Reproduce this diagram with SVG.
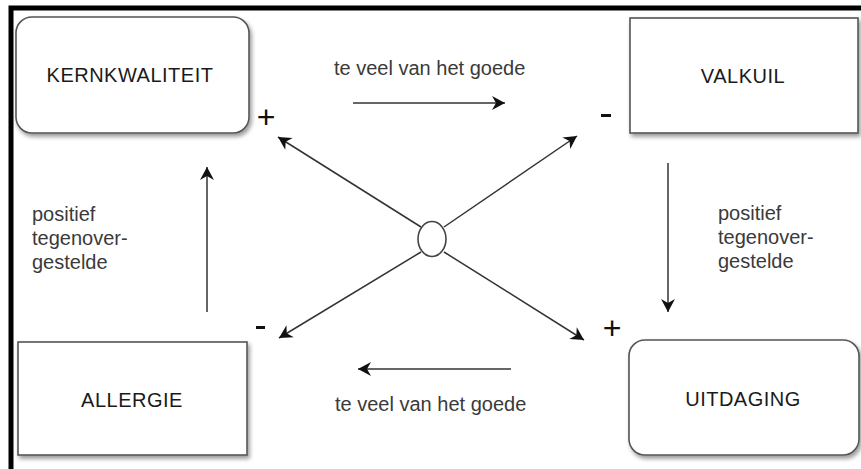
<svg xmlns="http://www.w3.org/2000/svg" width="861" height="469" viewBox="0 0 861 469">
<style>
.box{fill:#fff;stroke:#555;stroke-width:1.6;filter:url(#sh)}
.lbl{font-family:"Liberation Sans",Arial,sans-serif;font-size:20px;letter-spacing:0.5px;fill:#1a1a1a;text-anchor:middle}
.elbl{font-family:"Liberation Sans",Arial,sans-serif;font-size:20px;fill:#3a3a3a}
.sign{font-family:"Liberation Sans",Arial,sans-serif;fill:#111;text-anchor:middle}
.con{stroke:#333;stroke-width:1.5;fill:none;marker-end:url(#ah)}
</style>
<defs>
<filter id="sh" x="-10%" y="-10%" width="130%" height="130%">
<feDropShadow dx="2" dy="3" stdDeviation="2" flood-color="#000" flood-opacity="0.4"/>
</filter>
<marker id="ah" markerUnits="userSpaceOnUse" markerWidth="16" markerHeight="16" viewBox="-14 -8 16 16" refX="0" refY="0" orient="auto">
<path d="M0,0 L-13,-7 L-9,0 L-13,7 Z" fill="#111"/>
</marker>
</defs>
<rect width="861" height="469" fill="#fff"/>
<path d="M11,469 V8 H861" fill="none" stroke="#000" stroke-width="5"/>

<g id="connectors">
<line class="con" x1="353" y1="103" x2="505" y2="103"/>
<line class="con" x1="511" y1="369" x2="358" y2="369"/>
<line class="con" x1="207" y1="312" x2="207" y2="167"/>
<line class="con" x1="668" y1="163" x2="668" y2="312"/>
<line class="con" x1="421" y1="227" x2="278" y2="137"/>
<line class="con" x1="444" y1="227" x2="577" y2="136"/>
<line class="con" x1="421" y1="252" x2="279" y2="338"/>
<line class="con" x1="444" y1="252" x2="584" y2="340"/>
<text class="elbl" x="334" y="75">te veel van het goede</text>
<text class="elbl" x="335" y="411">te veel van het goede</text>
<text class="elbl" x="32" y="221">positief</text>
<text class="elbl" x="32" y="245">tegenover-</text>
<text class="elbl" x="32" y="269">gestelde</text>
<text class="elbl" x="718" y="220">positief</text>
<text class="elbl" x="718" y="244">tegenover-</text>
<text class="elbl" x="718" y="268">gestelde</text>
</g>

<g id="center">
<ellipse cx="432" cy="239" rx="14" ry="17.5" fill="#fff" stroke="#444" stroke-width="1.6"/>
</g>

<g id="kernkwaliteit">
<rect class="box" x="16" y="17" width="233" height="116" rx="16"/>
<text class="lbl" x="130" y="82">KERNKWALITEIT</text>
<text class="sign" x="266" y="128" font-size="32">+</text>
</g>

<g id="valkuil">
<rect class="box" x="630" y="18" width="228" height="115"/>
<text class="lbl" x="743" y="83">VALKUIL</text>
<rect x="601" y="114" width="10" height="3" fill="#111"/>
</g>

<g id="allergie">
<rect class="box" x="18" y="342" width="229" height="113"/>
<text class="lbl" x="132" y="407">ALLERGIE</text>
<rect x="256" y="326" width="9" height="3" fill="#111"/>
</g>

<g id="uitdaging">
<rect class="box" x="629" y="340" width="230" height="115" rx="16"/>
<text class="lbl" x="743" y="406">UITDAGING</text>
<text class="sign" x="612" y="339" font-size="32">+</text>
</g>
</svg>
